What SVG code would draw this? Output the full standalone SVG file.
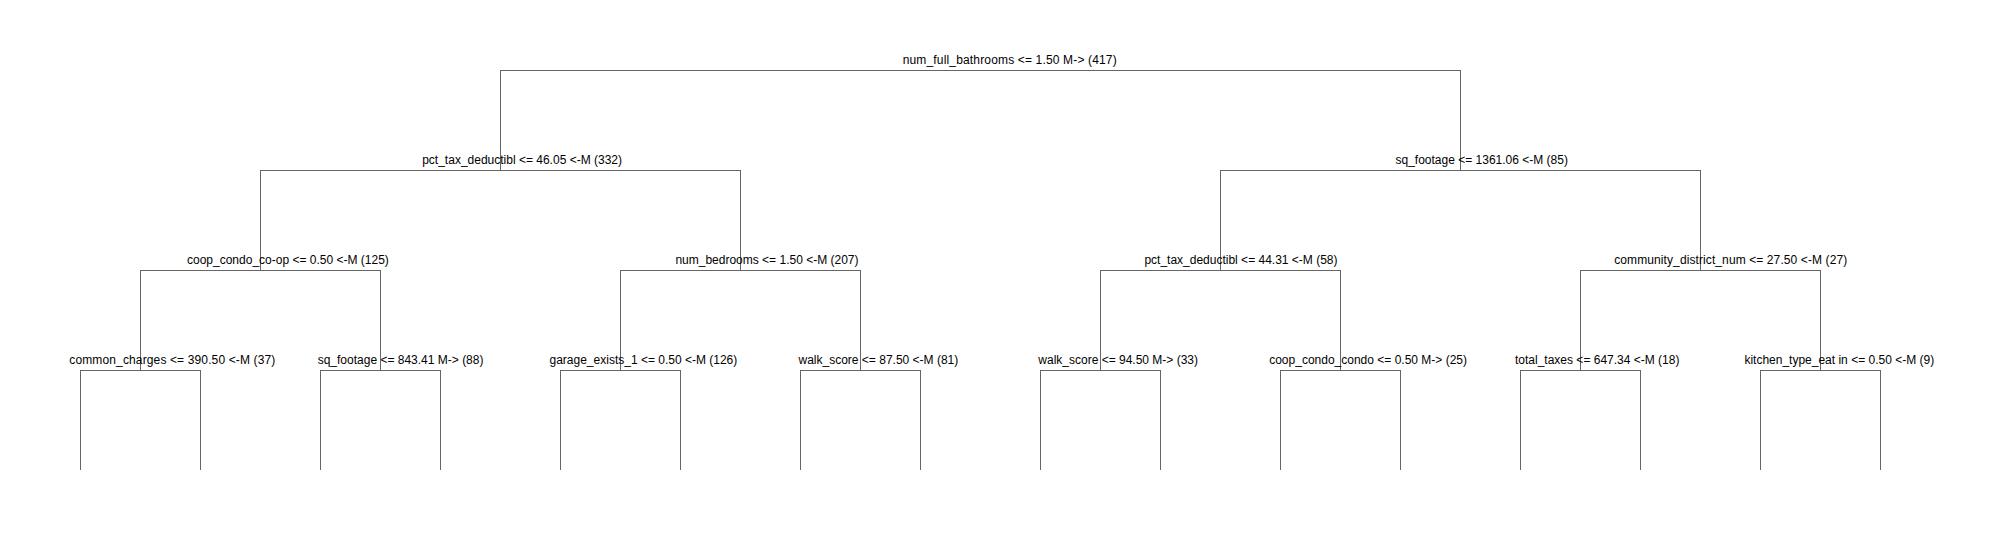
<svg xmlns="http://www.w3.org/2000/svg" width="2002" height="540" viewBox="0 0 2002 540">
<style>
.lbl{font-family:"Liberation Sans",Arial,sans-serif;font-size:12px;fill:#000;}
.edge{fill:none;stroke:#666;stroke-width:1;shape-rendering:crispEdges;}
</style>
<rect width="2002" height="540" fill="#fff"/>
<g id="connectors">
<path class="edge" d="M500.5 170V70.5H1460.5V170"/>
<path class="edge" d="M260.5 270V170.5H740.5V270"/>
<path class="edge" d="M1220.5 270V170.5H1700.5V270"/>
<path class="edge" d="M140.5 370V270.5H380.5V370"/>
<path class="edge" d="M620.5 370V270.5H860.5V370"/>
<path class="edge" d="M1100.5 370V270.5H1340.5V370"/>
<path class="edge" d="M1580.5 370V270.5H1820.5V370"/>
<path class="edge" d="M80.5 470V370.5H200.5V470"/>
<path class="edge" d="M320.5 470V370.5H440.5V470"/>
<path class="edge" d="M560.5 470V370.5H680.5V470"/>
<path class="edge" d="M800.5 470V370.5H920.5V470"/>
<path class="edge" d="M1040.5 470V370.5H1160.5V470"/>
<path class="edge" d="M1280.5 470V370.5H1400.5V470"/>
<path class="edge" d="M1520.5 470V370.5H1640.5V470"/>
<path class="edge" d="M1760.5 470V370.5H1880.5V470"/>
</g>
<g id="n1"><text class="lbl" x="902.7" y="64" textLength="214" lengthAdjust="spacing">num_full_bathrooms &lt;= 1.50 M-&gt; (417)</text></g>
<g id="n2"><text class="lbl" x="422.2" y="164">pct_tax_deductibl &lt;= 46.05 &lt;-M (332)</text></g>
<g id="n3"><text class="lbl" x="1395.5" y="164">sq_footage &lt;= 1361.06 &lt;-M (85)</text></g>
<g id="n4"><text class="lbl" x="187" y="264">coop_condo_co-op &lt;= 0.50 &lt;-M (125)</text></g>
<g id="n5"><text class="lbl" x="675.4" y="264">num_bedrooms &lt;= 1.50 &lt;-M (207)</text></g>
<g id="n6"><text class="lbl" x="1144.4" y="264">pct_tax_deductibl &lt;= 44.31 &lt;-M (58)</text></g>
<g id="n7"><text class="lbl" x="1614.2" y="264" textLength="233" lengthAdjust="spacing">community_district_num &lt;= 27.50 &lt;-M (27)</text></g>
<g id="n8"><text class="lbl" x="69.3" y="364" textLength="206" lengthAdjust="spacing">common_charges &lt;= 390.50 &lt;-M (37)</text></g>
<g id="n9"><text class="lbl" x="317.7" y="364">sq_footage &lt;= 843.41 M-&gt; (88)</text></g>
<g id="n10"><text class="lbl" x="549.5" y="364">garage_exists_1 &lt;= 0.50 &lt;-M (126)</text></g>
<g id="n11"><text class="lbl" x="798.5" y="364">walk_score &lt;= 87.50 &lt;-M (81)</text></g>
<g id="n12"><text class="lbl" x="1038.3" y="364">walk_score &lt;= 94.50 M-&gt; (33)</text></g>
<g id="n13"><text class="lbl" x="1269.2" y="364">coop_condo_condo &lt;= 0.50 M-&gt; (25)</text></g>
<g id="n14"><text class="lbl" x="1515" y="364">total_taxes &lt;= 647.34 &lt;-M (18)</text></g>
<g id="n15"><text class="lbl" x="1744.4" y="364">kitchen_type_eat in &lt;= 0.50 &lt;-M (9)</text></g>
</svg>
